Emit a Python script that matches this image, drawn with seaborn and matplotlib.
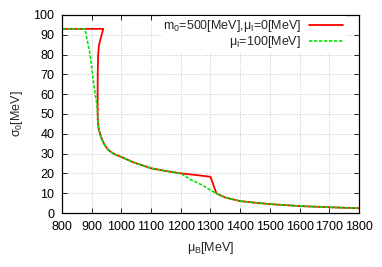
import numpy as np
import matplotlib
matplotlib.use("Agg")
import matplotlib.pyplot as plt
import seaborn as sns

# curves (mu_B in MeV, sigma_0 in MeV)
mu_red = [800, 939, 930, 924.5, 922, 920.5, 920, 920, 920.5, 923, 928, 935, 945, 956,
          975, 1000, 1040, 1100, 1150, 1200, 1250, 1300, 1310, 1320, 1350, 1400, 1450,
          1500, 1600, 1700, 1800]
sig_red = [93, 93, 88, 84.8, 80.5, 72, 64, 55, 47, 43, 40, 37, 34, 31.8,
           29.8, 28.3, 25.6, 22.6, 21.2, 20, 19.2, 18.3, 14, 9.9, 7.8, 6.0, 5.2,
           4.5, 3.5, 2.9, 2.4]

mu_green = [800, 877, 894, 908, 917, 920, 921, 923, 928, 935, 945, 956,
            975, 1000, 1040, 1100, 1150, 1200, 1231, 1260, 1281, 1300, 1320, 1350,
            1400, 1450, 1500, 1600, 1700, 1800]
sig_green = [93, 93, 80.6, 63.8, 55.4, 50, 46, 43, 40, 37, 34, 31.8,
             29.8, 28.3, 25.6, 22.6, 21.2, 20, 17, 15, 13.3, 11.5, 9.9, 7.8,
             6.0, 5.2, 4.5, 3.5, 2.9, 2.4]

labels = ['m$_0$=500[MeV],$\\mu_I$=0[MeV]', '$\\mu_I$=100[MeV]']
x_ticks = np.arange(800, 1801, 100)
y_ticks = np.arange(0, 101, 10)

sns.set_style("ticks")
plt.rcParams['font.family'] = ['Liberation Sans', 'DejaVu Sans']
plt.rcParams['mathtext.fontset'] = 'custom'
plt.rcParams['mathtext.rm'] = 'Liberation Sans'
plt.rcParams['mathtext.it'] = 'Liberation Sans'

fig = plt.figure(figsize=(3.82, 2.67), dpi=100)
ax = fig.add_axes([62 / 382, 54 / 267, 297 / 382, 198 / 267])

sns.lineplot(x=mu_red, y=sig_red, sort=False, estimator=None, color='#ff0000',
             lw=1.3, label=labels[0], ax=ax)
sns.lineplot(x=mu_green, y=sig_green, sort=False, estimator=None, color='#00e600',
             lw=1.2, linestyle=(0, (2, 1)), label=labels[1], ax=ax)

ax.set_xlim(800, 1800)
ax.set_ylim(0, 100)
ax.set_xticks(x_ticks)
ax.set_yticks(y_ticks)
ax.grid(True, color='#c8c8c8', linestyle=':', linewidth=0.7)
ax.tick_params(direction='in', length=3.5, width=0.6, top=True, right=True,
               labelsize=9, pad=5.5, colors='black')
for s in ax.spines.values():
    s.set_linewidth(0.9)
    s.set_color('black')

ax.set_xlabel('$\\mu_B$[MeV]', fontsize=9, labelpad=5)
ax.set_ylabel('$\\sigma_0$[MeV]', fontsize=9, labelpad=6)

leg = ax.legend(loc='upper right', bbox_to_anchor=(0.955, 0.996), markerfirst=False,
                frameon=True, fancybox=False, framealpha=1, edgecolor='none',
                facecolor='white', fontsize=9, handlelength=2.7, handletextpad=0.65,
                labelspacing=0.0, borderaxespad=0, borderpad=0.2)

fig.savefig('out.png', dpi=100)
